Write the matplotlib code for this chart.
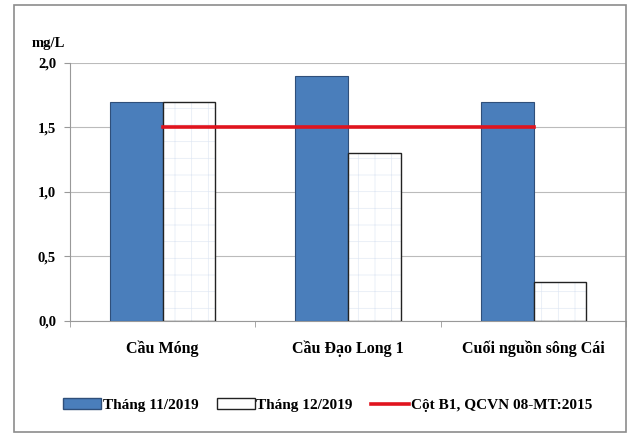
import numpy as np
import matplotlib.pyplot as plt
from matplotlib.patches import Rectangle
from matplotlib.lines import Line2D

# Du lieu
diem = ['Cầu Móng', 'Cầu Đạo Long 1', 'Cuối nguồn sông Cái']
thang11 = [1.7, 1.9, 1.7]
thang12 = [1.7, 1.3, 0.3]
qcvn = [1.5, 1.5, 1.5]
nhan = ['Tháng 11/2019', 'Tháng 12/2019', 'Cột B1, QCVN 08-MT:2015']
yticks = [0.0, 0.5, 1.0, 1.5, 2.0]

plt.rcParams['font.family'] = 'Liberation Serif'
plt.rcParams['font.weight'] = 'bold'
plt.rcParams['hatch.linewidth'] = 0.5

fig = plt.figure(figsize=(6.3, 4.36), dpi=100)
# khung ngoai
fig.patches.append(Rectangle((0.022, 0.009), 0.971, 0.979, transform=fig.transFigure,
                             fill=False, edgecolor='#8c8c8c', linewidth=1.2))
ax = fig.add_axes([0.111, 0.2638, 0.883, 0.5917])

x = np.arange(len(diem))
w = 0.285
ax.bar(x - w/2, thang11, w, color='#4a7ebb', edgecolor='#2f4f7a', linewidth=0.8, zorder=3)
ax.bar(x + w/2, thang12, w, color='white', edgecolor='#e2e9f4', hatch='+', linewidth=0, zorder=3)
ax.bar(x + w/2, thang12, w, fill=False, edgecolor='#222222', linewidth=1.0, zorder=4)
ax.plot(x, qcvn, color='#e0141e', linewidth=2.6, zorder=5)

ax.set_xlim(-0.5, 2.5)
ax.set_ylim(0, 2.0)
ax.set_yticks(yticks)
ax.set_yticklabels([('%.1f' % v).replace('.', ',') for v in yticks], fontsize=10.5)
ax.set_xticks(x)
ax.set_xticklabels(diem, fontsize=11.5)
ax.tick_params(axis='x', length=0, pad=14)
ax.set_xticks([-0.5, 0.5, 1.5, 2.5], minor=True)
ax.tick_params(axis='x', which='minor', length=4, color='#999999')
ax.tick_params(axis='y', length=4, color='#999999', pad=6)
ax.grid(axis='y', color='#bbbbbb', linewidth=0.8, zorder=0)
for s in ['top', 'right']:
    ax.spines[s].set_visible(False)
for s in ['left', 'bottom']:
    ax.spines[s].set_color('#999999')

fig.text(0.05, 0.893, 'mg/L', fontsize=10.5, fontweight='bold')

handles = [Rectangle((0, 0), 1, 1, facecolor='#4a7ebb', edgecolor='#2f4f7a'),
           Rectangle((0, 0), 1, 1, facecolor='white', edgecolor='#222222'),
           Line2D([0], [0], color='#e0141e', linewidth=2.6)]
fig.legend(handles, nhan, loc='center', bbox_to_anchor=(0.52, 0.071), ncol=3,
           frameon=False, fontsize=11, handlelength=2.5, handletextpad=0.1,
           columnspacing=1.2)

fig.savefig('out.png', dpi=100)
